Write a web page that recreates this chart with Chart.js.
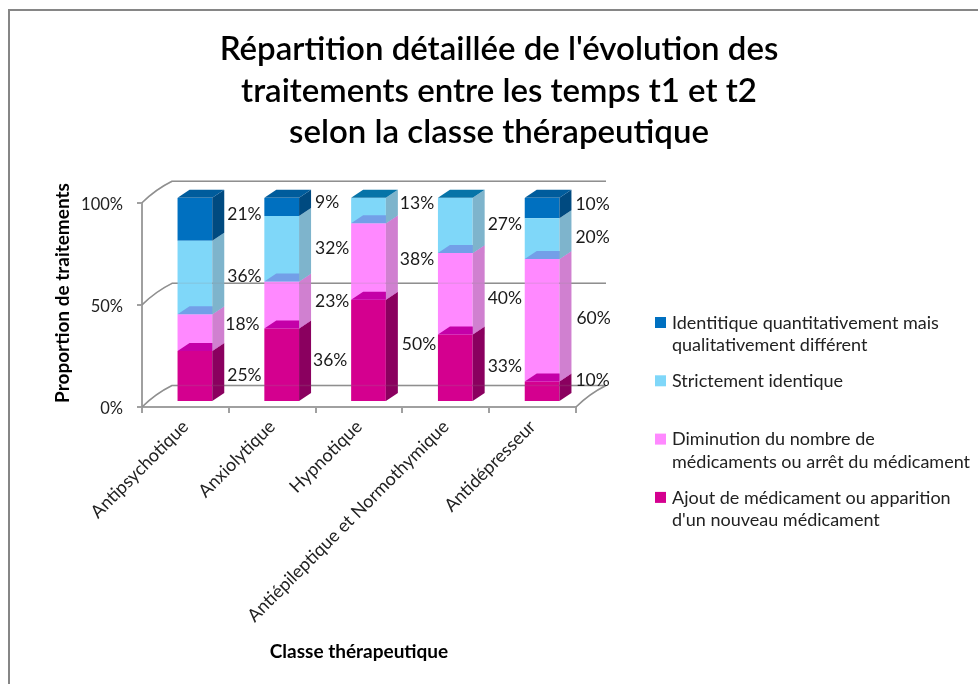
<!DOCTYPE html>
<html>
<head>
<meta charset="utf-8">
<title>Répartition détaillée</title>
<script src="https://cdn.jsdelivr.net/npm/chart.js@4"></script>
<style>
    html, body { margin: 0; padding: 0; background: #fff; overflow: hidden; }
    #frame {
        position: absolute; left: 8px; top: 9px; width: 978px; height: 680px;
        border-left: 2px solid #868686; border-top: 2px solid #868686;
    }
</style>
</head>
<body>
<div id="frame"><canvas id="chart" width="978" height="680"></canvas></div>
<script>
const FONT = 'Lato, Carlito, sans-serif';

// Data
const categories = ['Antipsychotique', 'Anxiolytique', 'Hypnotique', 'Antiépileptique et Normothymique', 'Antidépresseur'];
const ajout = [25, 36, 50, 33, 10];
const diminution = [18, 23, 37.5, 40, 60];
const identique = [36, 32, 12.5, 27, 20];
const identitique = [21, 9, 0, 0, 10];
const yTicks = [0, 50, 100];
const legendAjout = ['Ajout de médicament ou apparition', "d'un nouveau médicament"];
const legendDiminution = ['Diminution du nombre de', 'médicaments ou arrêt du médicament'];
const legendIdentique = ['Strictement identique'];
const legendIdentitique = ['Identitique quantitativement mais', 'qualitativement différent'];

// Where each value label sits, relative to the right edge and middle of its segment
const labelDx = [[15, 14, 16, 15, 16], [13, 16, 14, 15, 17], [15, 16, 14, 15, 16], [15, 16, 0, 0, 16]];
const labelDy = [[-1, -4, -6, -1, -11], [-8, -4, -2, 5, -2], [-1, 0, -7, -1, -1], [-5, -5, 0, 0, -4]];

// 3D look: front plane is the chart area, bars stand a bit behind it, the wall further back
const BAR_SHIFT = { x: 9.5, y: -5 };
const BAR_DEPTH = { x: 12, y: -8 };
const WALL = { x: 30, y: -21.5 };
const sideColors = ['#8a005f', '#d080d0', '#7eb4cc', '#004a80'];
const topColors = ['#c400a8', '#739fe8', null, '#005c9c'];
const flatTopColor = '#0674a8'; // top of a stack whose last segment is empty

function poly(ctx, color, pts) {
    ctx.fillStyle = color;
    ctx.beginPath();
    pts.forEach((p, i) => i ? ctx.lineTo(p[0], p[1]) : ctx.moveTo(p[0], p[1]));
    ctx.closePath();
    ctx.fill();
}

function drawWall(chart) {
    const ctx = chart.ctx;
    const { x: xs, y: ys } = chart.scales;
    ctx.save();
    ctx.strokeStyle = '#8f8f8f';
    ctx.lineWidth = 1.5;
    ctx.beginPath();
    yTicks.forEach(t => {
        const y = ys.getPixelForValue(t);
        ctx.moveTo(xs.left, y);
        ctx.quadraticCurveTo(xs.left + WALL.x * 0.45, y + WALL.y * 0.62, xs.left + WALL.x, y + WALL.y);
        ctx.lineTo(xs.right + WALL.x, y + WALL.y);
    });
    const y0 = ys.getPixelForValue(0);
    ctx.moveTo(xs.right, y0);
    ctx.quadraticCurveTo(xs.right + WALL.x * 0.45, y0 + WALL.y * 0.62, xs.right + WALL.x, y0 + WALL.y);
    ctx.stroke();
    ctx.restore();
}

// Legend is drawn here: the built in one gets squeezed to a quarter of the width
function drawLegend(chart) {
    const ctx = chart.ctx;
    const left = chart.scales.spare.left + 79;
    ctx.save();
    ctx.font = '18px ' + FONT;
    ctx.textAlign = 'left';
    ctx.textBaseline = 'middle';
    chart.data.datasets.slice().reverse().forEach((ds, i) => {
        const y = 312 + i * 58.3;
        ctx.fillStyle = ds.backgroundColor;
        ctx.fillRect(left, y - 6, 11, 11);
        ctx.fillStyle = '#222';
        ds.label.forEach((line, k) => ctx.fillText(line, left + 17, y + k * 22.5));
    });
    ctx.restore();
}

const bars3d = {
    id: 'bars3d',
    beforeDatasetsDraw(chart) {
        drawWall(chart);
        chart.ctx.save();
        chart.ctx.translate(BAR_SHIFT.x, BAR_SHIFT.y);
    },
    afterDatasetsDraw(chart) {
        const ctx = chart.ctx;
        const dx = BAR_DEPTH.x, dy = BAR_DEPTH.y;
        chart.data.datasets.forEach((ds, i) => {
            chart.getDatasetMeta(i).data.forEach((bar, j) => {
                const right = bar.x + bar.width / 2;
                const left = bar.x - bar.width / 2;
                if (ds.data[j] > 0) {
                    poly(ctx, sideColors[i], [[right, bar.base], [right + dx, bar.base + dy], [right + dx, bar.y + dy], [right, bar.y]]);
                }
                let top = topColors[i];
                if (i === 3 && ds.data[j] === 0) top = flatTopColor;
                if (top) {
                    poly(ctx, top, [[left, bar.y], [right, bar.y], [right + dx, bar.y + dy], [left + dx, bar.y + dy]]);
                }
            });
        });
        ctx.restore();

        // the back wall shows faintly through the bars
        ctx.save();
        ctx.globalAlpha = 0.18;
        drawWall(chart);
        ctx.restore();

        // value labels
        ctx.save();
        ctx.font = '17.5px ' + FONT;
        ctx.fillStyle = '#1a1a1a';
        ctx.textAlign = 'left';
        ctx.textBaseline = 'middle';
        chart.data.datasets.forEach((ds, i) => {
            chart.getDatasetMeta(i).data.forEach((bar, j) => {
                if (!ds.data[j]) return;
                const x = bar.x + bar.width / 2 + BAR_SHIFT.x + labelDx[i][j];
                const y = (bar.y + bar.base) / 2 + BAR_SHIFT.y + labelDy[i][j];
                ctx.fillText(Math.round(ds.data[j]) + '%', x, y);
            });
        });
        ctx.restore();

        // y axis title, it is not centred on the axis in the original
        ctx.save();
        ctx.translate(53, 282);
        ctx.rotate(-Math.PI / 2);
        ctx.font = '700 19px ' + FONT;
        ctx.fillStyle = '#000';
        ctx.textAlign = 'center';
        ctx.textBaseline = 'middle';
        ctx.fillText('Proportion de traitements', 0, 0);
        ctx.restore();

        drawLegend(chart);
    }
};

new Chart(document.getElementById('chart'), {
    type: 'bar',
    data: {
        labels: categories,
        datasets: [
            { label: legendAjout, data: ajout, backgroundColor: '#d4008f' },
            { label: legendDiminution, data: diminution, backgroundColor: '#ff89ff' },
            { label: legendIdentique, data: identique, backgroundColor: '#7fd7f9' },
            { label: legendIdentitique, data: identitique, backgroundColor: '#0070c0' }
        ]
    },
    options: {
        responsive: false,
        animation: false,
        barPercentage: 0.4,
        categoryPercentage: 1,
        layout: { padding: { left: 0, right: 0, bottom: 24, top: 0 } },
        plugins: {
            tooltip: { enabled: false },
            legend: { display: false },
            title: {
                display: true,
                text: ["Répartition détaillée de l'évolution des", 'traitements entre les temps t1 et t2', 'selon la classe thérapeutique'],
                font: { family: FONT, size: 33, weight: '600', lineHeight: 1.27 },
                color: '#000',
                padding: { top: 17, bottom: 49 }
            }
        },
        scales: {
            x: {
                stacked: true,
                afterFit(s) { s.height = 260; },
                border: { color: '#a0a0a0', width: 2 },
                grid: { drawOnChartArea: false, tickLength: 6, color: '#a0a0a0', lineWidth: 2 },
                ticks: {
                    minRotation: 45, maxRotation: 45, autoSkip: false,
                    font: { family: FONT, size: 18 }, color: '#222', padding: 3
                },
                title: {
                    display: true, text: 'Classe thérapeutique',
                    font: { family: FONT, size: 19, weight: '700' }, color: '#000'
                }
            },
            y: {
                stacked: true,
                min: 0,
                max: 100,
                afterFit(s) { s.width = 132; },
                afterBuildTicks(s) { s.ticks = yTicks.map(v => ({ value: v })); },
                border: { color: '#a0a0a0', width: 2 },
                grid: { drawOnChartArea: false, tickLength: 5, color: '#a0a0a0', lineWidth: 2 },
                ticks: {
                    font: { family: FONT, size: 16.5 }, color: '#222', padding: 14, labelOffset: 2,
                    callback: v => v + '%'
                }
            },
            // keeps the room on the right for the legend
            spare: {
                position: 'right',
                afterFit(s) { s.width = 412; },
                grid: { display: false },
                border: { display: false },
                ticks: { display: false }
            }
        }
    },
    plugins: [bars3d]
});
</script>
</body>
</html>
